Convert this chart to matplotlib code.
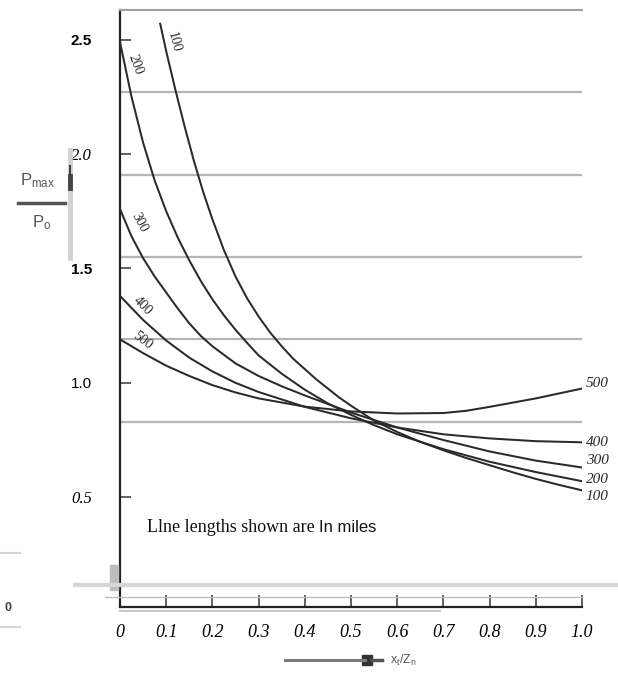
import matplotlib

matplotlib.use("Agg")
import matplotlib.pyplot as plt
from matplotlib.lines import Line2D
from matplotlib.patches import Rectangle

# line length (miles) -> (x_t/Z_n, Pmax/Po)
lengths = [100, 200, 300, 400, 500]

u100 = [0.087, 0.1, 0.12, 0.14, 0.16, 0.18, 0.2, 0.225, 0.25, 0.275, 0.3, 0.325, 0.35, 0.375, 0.4,
        0.425, 0.45, 0.475, 0.5, 0.55, 0.6, 0.65, 0.7, 0.75, 0.8, 0.85, 0.9, 0.95, 1.0]
p100 = [2.57, 2.45, 2.28, 2.12, 1.97, 1.835, 1.715, 1.58, 1.465, 1.37, 1.29, 1.22, 1.16, 1.105, 1.06,
        1.015, 0.975, 0.935, 0.90, 0.835, 0.785, 0.742, 0.705, 0.671, 0.64, 0.609, 0.58, 0.554, 0.53]

u200 = [0.0, 0.025, 0.05, 0.075, 0.1, 0.125, 0.15, 0.175, 0.2, 0.225, 0.25, 0.275, 0.3, 0.35, 0.4,
        0.45, 0.5, 0.55, 0.6, 0.7, 0.8, 0.9, 1.0]
p200 = [2.49, 2.25, 2.05, 1.885, 1.75, 1.635, 1.535, 1.445, 1.365, 1.295, 1.232, 1.175, 1.12, 1.04, 0.97,
        0.91, 0.86, 0.815, 0.775, 0.71, 0.655, 0.61, 0.57]

u300 = [0.0, 0.025, 0.05, 0.075, 0.1, 0.125, 0.15, 0.175, 0.2, 0.25, 0.3, 0.35, 0.4, 0.5, 0.6, 0.7,
        0.8, 0.9, 1.0]
p300 = [1.76, 1.64, 1.545, 1.465, 1.395, 1.325, 1.26, 1.205, 1.16, 1.085, 1.03, 0.985, 0.945, 0.87,
        0.805, 0.75, 0.70, 0.66, 0.63]

u400 = [0.0, 0.05, 0.1, 0.15, 0.2, 0.25, 0.3, 0.4, 0.5, 0.6, 0.7, 0.8, 0.9, 1.0]
p400 = [1.38, 1.275, 1.185, 1.11, 1.05, 1.0, 0.96, 0.895, 0.845, 0.805, 0.775, 0.757, 0.745, 0.74]

u500 = [0.0, 0.05, 0.1, 0.15, 0.2, 0.25, 0.3, 0.4, 0.5, 0.6, 0.7, 0.75, 0.8, 0.9, 1.0]
p500 = [1.19, 1.13, 1.075, 1.03, 0.99, 0.958, 0.932, 0.896, 0.875, 0.866, 0.868, 0.878, 0.895, 0.932, 0.975]

curves = {100: (u100, p100), 200: (u200, p200), 300: (u300, p300), 400: (u400, p400), 500: (u500, p500)}

# stray horizontal rules of the scan
grid_levels = [2.27, 1.91, 1.55, 1.19, 0.83]

yticks = [0.5, 1.0, 1.5, 2.0, 2.5]
ytick_labels = ["0.5", "1.0", "1.5", "2.0", "2.5"]
xticks = [0.0, 0.1, 0.2, 0.3, 0.4, 0.5, 0.6, 0.7, 0.8, 0.9, 1.0]
xtick_labels = ["0", "0.1", "0.2", "0.3", "0.4", "0.5", "0.6", "0.7", "0.8", "0.9", "1.0"]

SERIF = "Liberation Serif"
SANS = "Liberation Sans"
INK = "#2a2a2a"
W, H = 618, 673


def fx(px):
    return px / W


def fy(py):
    return 1 - py / H


fig = plt.figure(figsize=(W / 100, H / 100), dpi=100)
ax = fig.add_axes([fx(120), fy(607), fx(582) - fx(120), fy(10) - fy(607)])
ax.set_xlim(0, 1.0)
ax.set_ylim(0.02, 2.63)

for lvl in grid_levels:
    ax.axhline(lvl, color="#b4b4b4", lw=1.6, zorder=1)

for n in lengths:
    u, p = curves[n]
    ax.plot(u, p, color=INK, lw=1.45, zorder=3, solid_joinstyle="round")

# labels written along the curves near the left axis
inline = {100: (0.117, 2.49, -75), 200: (0.034, 2.39, -70), 300: (0.042, 1.70, -62),
          400: (0.048, 1.335, -45), 500: (0.048, 1.185, -38)}
for n, (lx, ly, rot) in inline.items():
    ax.text(lx, ly, str(n), rotation=rot, fontsize=10, family=SERIF, color=INK,
            ha="center", va="center", rotation_mode="anchor")

# labels at the right-hand ends (nudged apart where the ends crowd together)
end_shift = {100: -0.028, 200: 0.006, 300: 0.03, 400: 0.0, 500: 0.02}
for n in lengths:
    u, p = curves[n]
    ax.text(1.008, p[-1] + end_shift[n], str(n), fontsize=11, family=SERIF,
            style="italic", color=INK, ha="left", va="center", clip_on=False)

ax.spines["right"].set_visible(False)
ax.spines["top"].set_color("#a0a0a0")
ax.spines["top"].set_linewidth(1.5)
ax.spines["left"].set_linewidth(1.6)
ax.spines["left"].set_color("#222222")
ax.spines["bottom"].set_linewidth(1.6)
ax.spines["bottom"].set_color("#222222")

ax.set_yticks(yticks)
ax.set_yticklabels(ytick_labels)
ax.tick_params(axis="y", direction="in", length=8, width=1.2, color="#444444", pad=20)
ax.set_xticks(xticks)
ax.set_xticklabels(xtick_labels)
ax.tick_params(axis="x", direction="in", length=9, width=1.2, color="#444444", pad=12)

for lab in ax.get_yticklabels():
    t = lab.get_text()
    if t in ("2.5", "1.5"):
        lab.set_fontfamily(SANS)
        lab.set_fontweight("bold")
        lab.set_fontsize(11)
    elif t == "1.0":
        lab.set_fontfamily(SANS)
        lab.set_fontsize(11)
    else:
        lab.set_fontfamily(SERIF)
        lab.set_fontstyle("italic")
        lab.set_fontsize(12)
for lab in ax.get_xticklabels():
    lab.set_fontfamily(SERIF)
    lab.set_fontstyle("italic")
    lab.set_fontsize(13)

# note inside the plot
t1 = ax.text(fx(147), fy(527), "Llne lengths shown are ", transform=fig.transFigure,
             family=SERIF, fontsize=13, color="#111111", ha="left", va="center")
fig.canvas.draw()
bb = t1.get_window_extent()
ax.text(bb.x1 / fig.bbox.width, fy(527), "In miles", transform=fig.transFigure,
        family=SANS, fontsize=12, color="#111111", ha="left", va="center")

# y label: Pmax / Po with an upward arrow
fig.text(fx(38), fy(181), r"$\mathregular{P_{max}}$", family=SANS, fontsize=12,
         color="#555555", ha="center", va="center")
fig.add_artist(Line2D([fx(18), fx(65)], [fy(203), fy(203)], color="#555555", lw=2.5))
fig.text(fx(42), fy(223), r"$\mathregular{P_o}$", family=SANS, fontsize=12,
         color="#555555", ha="center", va="center")
fig.add_artist(Line2D([fx(70), fx(70)], [fy(258), fy(150)], color="#d2d2d2", lw=3.5))
fig.add_artist(Line2D([fx(70), fx(70)], [fy(188), fy(176)], color="#444444", lw=3.5))
fig.add_artist(Line2D([fx(70), fx(70)], [fy(176), fy(166)], color="#444444", lw=1.5))

# x label: arrow pointing right, then xt/Zn
fig.add_artist(Line2D([fx(285), fx(365)], [fy(660), fy(660)], color="#7a7a7a", lw=2.2))
fig.add_artist(Rectangle((fx(362), fy(665)), fx(10), fy(655) - fy(665), color="#333333",
                         transform=fig.transFigure))
fig.add_artist(Line2D([fx(372), fx(382)], [fy(660), fy(660)], color="#555555", lw=2.5))
fig.text(fx(390), fy(660), r"$\mathregular{x_t/Z_n}$", family=SANS, fontsize=9,
         color="#555555", ha="left", va="center")

# scan remnants around the foot of the axis
fig.add_artist(Line2D([fx(75), fx(618)], [fy(585), fy(585)], color="#d6d6d6", lw=3))
fig.add_artist(Line2D([fx(105), fx(582)], [fy(597), fy(597)], color="#bdbdbd", lw=1))
fig.add_artist(Line2D([fx(120), fx(440)], [fy(611), fy(611)], color="#c8c8c8", lw=1.5))
fig.add_artist(Line2D([fx(0), fx(20)], [fy(553), fy(553)], color="#d4d4d4", lw=1.5))
fig.add_artist(Line2D([fx(0), fx(20)], [fy(627), fy(627)], color="#d4d4d4", lw=1.5))
fig.add_artist(Rectangle((fx(110), fy(590)), fx(8), fy(565) - fy(590), color="#bdbdbd",
                         transform=fig.transFigure))
fig.text(fx(8), fy(608), "0", family=SANS, fontweight="bold", fontsize=9,
         color="#444444", ha="center", va="center")

fig.savefig("out.png", dpi=100)
